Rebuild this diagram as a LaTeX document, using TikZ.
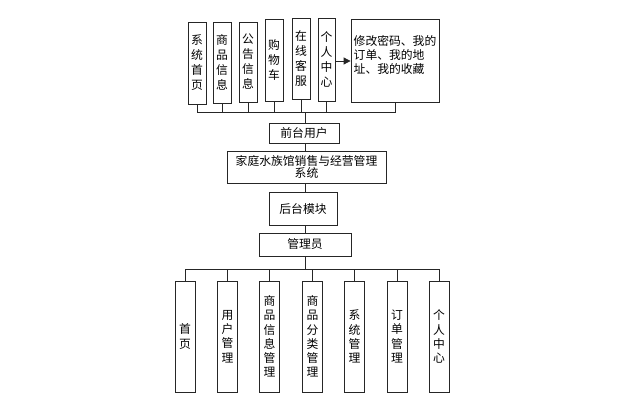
\documentclass[tikz,border=0pt]{standalone}
\usepackage{fontspec}
\newfontfamily\cjk{Noto Sans CJK SC}
\usetikzlibrary{arrows.meta}
\begin{document}
\begin{tikzpicture}[x=1pt,y=-1pt,
  box/.style={draw=black!85,line width=0.8pt,fill=white,inner sep=0pt,align=center,font=\cjk\fontsize{11.8}{15}\selectfont},
  vbox/.style={box,minimum width=18pt},
  bbox/.style={box,minimum width=20pt,minimum height=111pt,font=\cjk\fontsize{11.8}{14.2}\selectfont},
  conn/.style={draw=black!85,line width=0.8pt}]
\useasboundingbox (0,0) rectangle (618,407);
% top boxes
\node[vbox,minimum height=82pt] (t1) at (197,63) {系\\统\\首\\页};
\node[vbox,minimum height=81pt] (t2) at (222,62.5) {商\\品\\信\\息};
\node[vbox,minimum height=80pt] (t3) at (248,62) {公\\告\\信\\息};
\node[vbox,minimum height=82pt] (t4) at (274,60) {购\\物\\车};
\node[vbox,minimum height=81pt] (t5) at (301,58.5) {在\\线\\客\\服};
\node[vbox,minimum width=17pt,minimum height=83pt] (t6) at (326.5,59.5) {个\\人\\中\\心};
\node[box,minimum width=88pt,minimum height=83pt] (t7) at (395,60.5) {};
\node[font=\cjk\fontsize{11.8}{14}\selectfont,align=left,inner sep=0pt] (t7t) at (395,55) {修改密码、我的\\订单、我的地\\址、我的收藏};
\draw[conn,-{Triangle[length=7pt,width=7pt]}] (t6.east |- 0,61) -- (t7.west |- 0,61);
\coordinate (busT) at (305,112);
\draw[conn] (t1.south) -- (t1.south |- busT) -- (t7.south |- busT) -- (t7.south);
\foreach \n in {t2,t3,t4,t5,t6} \draw[conn] (\n.south) -- (\n.south |- busT);
% middle chain
\node[box,minimum width=70pt,minimum height=20pt] (m1) at (304,133) {前台用户};
\node[box,minimum width=159pt,minimum height=32pt,font=\cjk\fontsize{11.8}{12.5}\selectfont] (m2) at (306.5,167) {家庭水族馆销售与经营管理\\系统};
\node[box,minimum width=68pt,minimum height=33pt] (m3) at (303,208.5) {后台模块};
\node[box,minimum width=92pt,minimum height=23pt] (m4) at (305,244.5) {管理员};
\draw[conn] (busT) -- (busT |- m1.north);
\draw[conn] (m1.south -| busT) -- (m2.north -| busT);
\draw[conn] (m2.south -| busT) -- (m3.north -| busT);
\draw[conn] (m3.south -| busT) -- (m4.north -| busT);
% bottom
\node[bbox] (b1) at (185,336.5) {首\\页};
\node[bbox] (b2) at (227.5,336.5) {用\\户\\管\\理};
\node[bbox] (b3) at (269.5,336.5) {商\\品\\信\\息\\管\\理};
\node[bbox] (b4) at (312.5,336.5) {商\\品\\分\\类\\管\\理};
\node[bbox] (b5) at (354.5,336.5) {系\\统\\管\\理};
\node[bbox] (b6) at (397,336.5) {订\\单\\管\\理};
\node[bbox] (b7) at (439,336.5) {个\\人\\中\\心};
\coordinate (busB) at (305,269);
\draw[conn] (m4.south -| busB) -- (busB);
\draw[conn] (b1.north) -- (b1.north |- busB) -- (b7.north |- busB) -- (b7.north);
\foreach \n in {b2,b3,b4,b5,b6} \draw[conn] (\n.north) -- (\n.north |- busB);
\end{tikzpicture}
\end{document}
